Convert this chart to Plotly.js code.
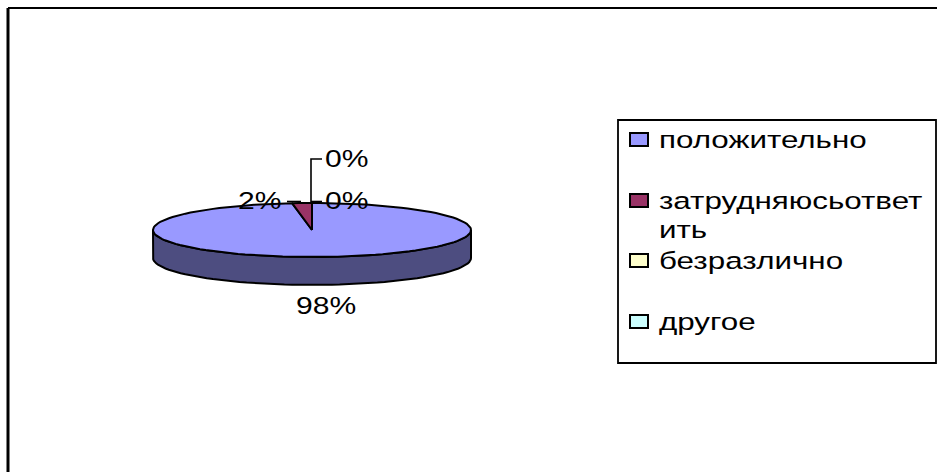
<!DOCTYPE html>
<html><head><meta charset="utf-8">
<script src="https://cdn.plot.ly/plotly-3.0.1.min.js"></script>
<style>html,body{margin:0;padding:0;background:#fff}#c{width:937px;height:472px}
.annotation-text{transform-box:fill-box;transform-origin:left center;transform:scaleX(1.28)}</style>
</head><body><div id="c"></div>
<script>
var categories = ["положительно", "затрудняюсьответить", "безразлично", "другое"];
var values = [98, 2, 0, 0];
var valueLabels = ["98%", "2%", "0%", "0%"];
var legendLines = ["положительно", "затрудняюсьответ", "ить", "безразлично", "другое"];
var topColors = ["#9999FF", "#993366", "#FFFFCC", "#CCFFFF"];
var sideColors = ["#4D4D80", "#4D1A33", "#808066", "#668080"];

var W = 937, H = 472;
var cx = 312, cy = 230, rx = 159, ry = 27, depth = 28;
var font = "Liberation Sans, Arial, sans-serif";
var INK = "#000000";

function ell(a) { return [cx + rx * Math.sin(a), cy - ry * Math.cos(a)]; }
function arc(a0, a1) {
  var out = [], n = Math.max(2, Math.ceil(Math.abs(a1 - a0) / 0.05));
  for (var i = 0; i <= n; i++) out.push(ell(a0 + (a1 - a0) * i / n));
  return out;
}
var total = values.reduce(function (a, b) { return a + b; }, 0);
var traces = [], start = 0;

// side wall (front half only) of the first, visible slice
var sideTop = arc(Math.PI / 2, Math.PI * 1.5);
var sx = [], sy = [];
sideTop.forEach(function (p) { sx.push(p[0]); sy.push(p[1]); });
sideTop.slice().reverse().forEach(function (p) { sx.push(p[0]); sy.push(p[1] + depth); });
sx.push(sx[0]); sy.push(sy[0]);
traces.push({ x: sx, y: sy, mode: "lines", fill: "toself", fillcolor: sideColors[0],
  line: { color: INK, width: 2 }, hoverinfo: "skip", showlegend: false });

// top faces
values.forEach(function (v, i) {
  var a0 = start / total * 2 * Math.PI, a1 = (start + v) / total * 2 * Math.PI;
  start += v;
  if (v <= 0) return;
  var pts = arc(a0, a1);
  var x = [cx], y = [cy];
  pts.forEach(function (p) { x.push(p[0]); y.push(p[1]); });
  x.push(cx); y.push(cy);
  traces.push({ x: x, y: y, mode: "lines", fill: "toself", fillcolor: topColors[i],
    line: { color: INK, width: 2 }, name: categories[i], hoverinfo: "name", showlegend: false });
});

// leader lines
traces.push({ x: [287, 301, null, 311, 322, null, 311, 311, 322], y: [201.5, 201.5, null, 201.5, 201.5, null, 203, 159, 159],
  mode: "lines", line: { color: INK, width: 1.6 }, hoverinfo: "skip", showlegend: false });

var anns = [];
function label(x, y, t, size) {
  anns.push({ x: x, y: y, xref: "x", yref: "y", text: t, showarrow: false, xanchor: "left", yanchor: "middle",
    align: "left", borderpad: 0, font: { family: font, size: size, color: INK } });
}
label(295, 306, valueLabels[0], 23.5);
label(237, 201, valueLabels[1], 23.5);
label(324, 201, valueLabels[2], 23.5);
label(324, 159, valueLabels[3], 23.5);
var lineY = [139.5, 200.5, 229, 260.5, 321.5];
var swatchY = [139.5, 200.5, 260.5, 321.5];
legendLines.forEach(function (t, i) { label(658, lineY[i], t, 24.5); });

var shapes = [
  { type: "line", xref: "x", yref: "y", x0: 8, x1: W, y0: 8, y1: 8, line: { color: INK, width: 2.2 } },
  { type: "line", xref: "x", yref: "y", x0: 8, x1: 8, y0: 8, y1: H, line: { color: INK, width: 3 } },
  { type: "rect", xref: "x", yref: "y", x0: 618, x1: 936, y0: 120, y1: 363, line: { color: INK, width: 1.8 }, fillcolor: "#fff", layer: "below" }
];
categories.forEach(function (c, i) {
  shapes.push({ type: "rect", xref: "x", yref: "y", x0: 630, x1: 648, y0: swatchY[i] - 6.5, y1: swatchY[i] + 6.5,
    fillcolor: topColors[i], line: { color: INK, width: 2 } });
});

var layout = {
  width: W, height: H, margin: { l: 0, r: 0, t: 0, b: 0 },
  paper_bgcolor: "#fff", plot_bgcolor: "#fff", showlegend: false,
  xaxis: { range: [0, W], visible: false, fixedrange: true },
  yaxis: { range: [H, 0], visible: false, fixedrange: true },
  annotations: anns, shapes: shapes
};
Plotly.newPlot("c", traces, layout, { displayModeBar: false });
</script></body></html>
